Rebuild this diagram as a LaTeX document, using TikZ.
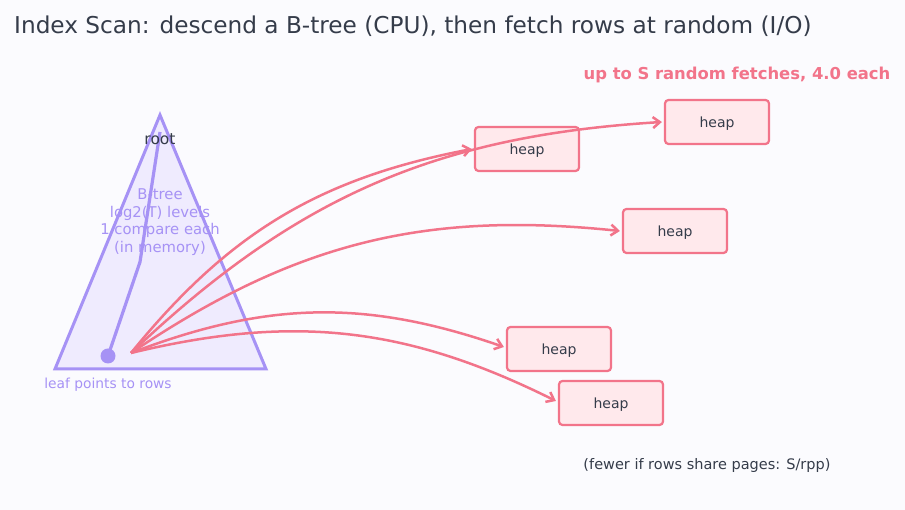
\documentclass[tikz,border=0pt]{standalone}
\usepackage{fontspec}
\setmainfont{DejaVu Sans}
\usetikzlibrary{arrows.meta}
\definecolor{bgc}{HTML}{FBFBFE}
\definecolor{redc}{HTML}{F2748A}
\definecolor{boxfill}{HTML}{FFE9EC}
\definecolor{lav}{HTML}{A692F5}
\definecolor{lavfill}{HTML}{EFEBFE}
\definecolor{darkc}{HTML}{353C4A}
\tikzset{
  heapbox/.style={draw=redc, fill=boxfill, line width=2.2pt, rounded corners=3.5pt,
    minimum width=104pt, minimum height=44pt, inner sep=0pt, text=darkc, text depth=0pt,
    font=\fontsize{14}{16}\selectfont},
  fetch/.style={draw=redc, line width=2.5pt, -{Straight Barb[length=7pt,width=11pt,line width=2.5pt]}},
  lavtext/.style={text=lav, align=center}
}
\begin{document}
\begin{tikzpicture}[x=1pt,y=1pt]
\useasboundingbox[fill=bgc] (0,0) rectangle (905,510);
% title
\node[anchor=west, text=darkc, font=\fontsize{23.2}{26}\selectfont, inner sep=0pt] (title) at (14,484) {Index Scan: descend a B-tree (CPU), then fetch rows at random (I/O)};
% triangle
\coordinate (apex) at (160,395);
\coordinate (bl) at (55,141);
\coordinate (br) at (266,141);
\draw[draw=lav, fill=lavfill, line width=3pt, line join=miter] (apex) -- (bl) -- (br) -- cycle;
% descent path
\coordinate (p0) at (160,378);
\coordinate (p1) at (140,248);
\coordinate (leaf) at (108,154);
\draw[lav, line width=3.2pt] (p0) -- (p1) -- (leaf);
\fill[lav] (leaf) circle (7.5pt);
\node[text=darkc, font=\fontsize{15.5}{17}\selectfont, inner sep=0pt] (root) at (160,371) {root};
\node[lavtext, font=\fontsize{14.8}{17.5}\selectfont, inner sep=0pt] (btree) at (160,288) {B-tree\\log2(T) levels\\1 compare each\\(in memory)};
\node[lavtext, font=\fontsize{13.8}{15}\selectfont, inner sep=0pt] (leaftxt) at (108,125) {leaf points to rows};
% heap boxes
\node[heapbox] (h1) at (527,361) {heap};
\node[heapbox] (h2) at (717,388) {heap};
\node[heapbox] (h3) at (675,279) {heap};
\node[heapbox] (h4) at (559,161) {heap};
\node[heapbox] (h5) at (611,107) {heap};
% arrows
\coordinate (src) at (131,157);
\draw[fetch] (src) to[bend left=20] ([xshift=-2pt]h1.west);
\draw[fetch] (src) to[bend left=20] ([xshift=-2pt]h2.west);
\draw[fetch] (src) to[bend left=20] ([xshift=-2pt]h3.west);
\draw[fetch] (src) to[bend left=20] ([xshift=-2pt,yshift=2pt]h4.west);
\draw[fetch] (src) to[bend left=20] ([xshift=-2pt,yshift=2pt]h5.west);
% labels
\node[text=redc, font=\bfseries\fontsize{16.4}{18}\selectfont, inner sep=0pt] (upto) at (737,435) {up to S random fetches, 4.0 each};
\node[text=darkc, font=\fontsize{14.5}{16}\selectfont, inner sep=0pt] (fewer) at (707,44) {(fewer if rows share pages: S/rpp)};
\end{tikzpicture}
\end{document}
